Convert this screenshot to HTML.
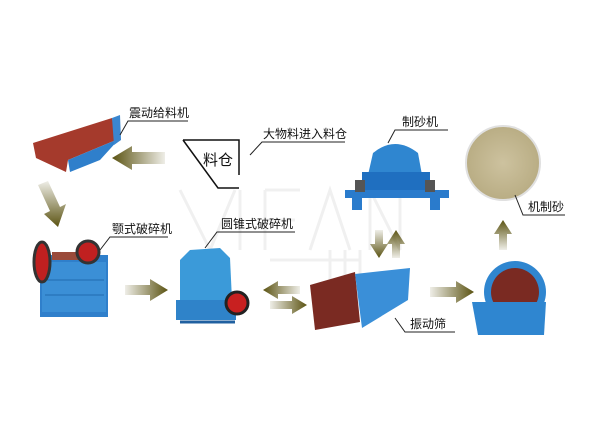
<!DOCTYPE html>
<html><head><meta charset="utf-8"><style>
html,body{margin:0;padding:0;background:#fff;}
svg{display:block}
text{font-family:"Liberation Sans","Noto Sans CJK SC",sans-serif;font-size:12px;fill:#111}
</style></head><body>
<svg width="600" height="445" viewBox="0 0 600 445" xmlns="http://www.w3.org/2000/svg">
<defs>
<linearGradient id="al" x1="0" x2="1"><stop offset="0" stop-color="#5b5312"/><stop offset="1" stop-color="#5b5312" stop-opacity="0.1"/></linearGradient>
<linearGradient id="ar" x1="1" x2="0"><stop offset="0" stop-color="#5b5312"/><stop offset="1" stop-color="#5b5312" stop-opacity="0.1"/></linearGradient>
<linearGradient id="au" x1="0" y1="0" x2="0" y2="1"><stop offset="0" stop-color="#5b5312"/><stop offset="1" stop-color="#5b5312" stop-opacity="0.1"/></linearGradient>
<linearGradient id="ad" x1="0" y1="1" x2="0" y2="0"><stop offset="0" stop-color="#5b5312"/><stop offset="1" stop-color="#5b5312" stop-opacity="0.1"/></linearGradient>
<radialGradient id="sand"><stop offset="0" stop-color="#cdc29f"/><stop offset="1" stop-color="#b9ad84"/></radialGradient>
</defs>
<g fill="none" stroke="#f0f0f0" stroke-width="3">
<path d="M180 190 L210 250 L235 190 M240 190 L240 250 M265 190 L300 190 M265 190 L265 250 M265 220 L295 220 M310 250 L330 190 L350 250 M370 250 L370 190 L400 250 L400 190"/>
<path d="M270 260 L360 260 M330 250 L330 300 M345 250 L345 300 M360 250 L360 300"/>
</g>
<polygon points="112,158 132,146 132,152 165,152 165,164 132,164 132,170" fill="url(#al)"/>
<polygon points="58,227 44,214 50,211 38,185 48,181 60,207 66,204" fill="url(#ad)"/>
<polygon points="168,290 150,279 150,285 125,285 125,295 150,295 150,301" fill="url(#ar)"/>
<polygon points="263,290 278,281 278,286 300,286 300,294 278,294 278,299" fill="url(#al)"/>
<polygon points="307,305 292,296 292,301 270,301 270,309 292,309 292,314" fill="url(#ar)"/>
<polygon points="379,258 370,244 375,244 375,230 383,230 383,244 388,244" fill="url(#ad)"/>
<polygon points="396,230 387,244 392,244 392,258 400,258 400,244 405,244" fill="url(#au)"/>
<polygon points="474,292 456,281 456,287 430,287 430,297 456,297 456,303" fill="url(#ar)"/>
<polygon points="503,220 494,234 499,234 499,250 507,250 507,234 512,234" fill="url(#au)"/>
<!-- feeder -->
<polygon points="33,143 112,118 116,140 68,160 66,172 36,158" fill="#a53a2c"/>
<polygon points="68,160 116,140 120,118 120,138 100,160 70,172" fill="#2f7fcb"/>
<polygon points="112,118 120,115 121,140 114,145" fill="#3a86cf"/>
<!-- jaw crusher -->
<rect x="40" y="255" width="68" height="62" fill="#2f7fcb"/>
<rect x="52" y="252" width="45" height="8" fill="#9a4a3a"/>
<rect x="42" y="262" width="64" height="50" fill="#3b8fd6"/>
<g stroke="#226bb0"><line x1="45" y1="280" x2="104" y2="280"/><line x1="45" y1="295" x2="104" y2="295"/></g>
<ellipse cx="42" cy="262" rx="8" ry="20" fill="#c02020" stroke="#333" stroke-width="3"/>
<circle cx="88" cy="252" r="11" fill="#c02020" stroke="#333" stroke-width="3"/>
<!-- cone crusher -->
<polygon points="190,250 220,248 230,258 232,300 180,300 180,260" fill="#3b9ad9"/>
<rect x="176" y="300" width="60" height="20" fill="#2f83c9"/>
<line x1="180" y1="322" x2="235" y2="322" stroke="#2060a0" stroke-width="3"/>
<circle cx="237" cy="303" r="11" fill="#c82020" stroke="#222" stroke-width="3"/>
<!-- sand maker -->
<path d="M373 153 Q395 135 418 153 L422 175 L368 175 Z" fill="#2f86d0"/>
<rect x="362" y="172" width="68" height="18" fill="#1f6fc0"/>
<rect x="345" y="190" width="104" height="8" fill="#2a7bcc"/>
<rect x="352" y="198" width="10" height="12" fill="#2a7bcc"/><rect x="430" y="198" width="10" height="12" fill="#2a7bcc"/>
<rect x="355" y="180" width="10" height="12" fill="#555"/><rect x="425" y="180" width="10" height="12" fill="#555"/>
<circle cx="503" cy="163" r="37" fill="url(#sand)" stroke="#e0e0e0" stroke-width="2"/>
<!-- screen -->
<polygon points="310,285 355,272 360,322 315,330" fill="#7a2a22"/>
<polygon points="355,274 410,268 408,300 362,328" fill="#3a8fd8"/>
<!-- washer -->
<circle cx="515" cy="292" r="31" fill="#2f86d0"/>
<circle cx="515" cy="292" r="24" fill="#7a2a22"/>
<polygon points="472,302 546,302 544,335 478,335" fill="#2f86d0"/>
<!-- hopper -->
<path d="M183 140 L239 140 L239 175 M183 140 L218 188 L239 188" fill="none" stroke="#111" stroke-width="1.5"/>
<text x="203" y="165" style="font-size:15px">料仓</text>
<g stroke="#222" fill="none" stroke-width="1">
<path d="M120 135 L128 121 L188 121"/>
<path d="M250 155 L262 142 L345 142"/>
<path d="M388 143 L395 130 L448 130"/>
<path d="M515 195 L523 215 L565 215"/>
<path d="M100 250 L110 237 L168 237"/>
<path d="M205 248 L217 232 L295 232"/>
<path d="M395 318 L405 332 L455 332"/>
</g>
<text x="129" y="117">震动给料机</text>
<text x="263" y="138">大物料进入料仓</text>
<text x="402" y="126">制砂机</text>
<text x="528" y="211">机制砂</text>
<text x="112" y="233">颚式破碎机</text>
<text x="221" y="228">圆锥式破碎机</text>
<text x="410" y="328">振动筛</text>
</svg>
</body></html>
